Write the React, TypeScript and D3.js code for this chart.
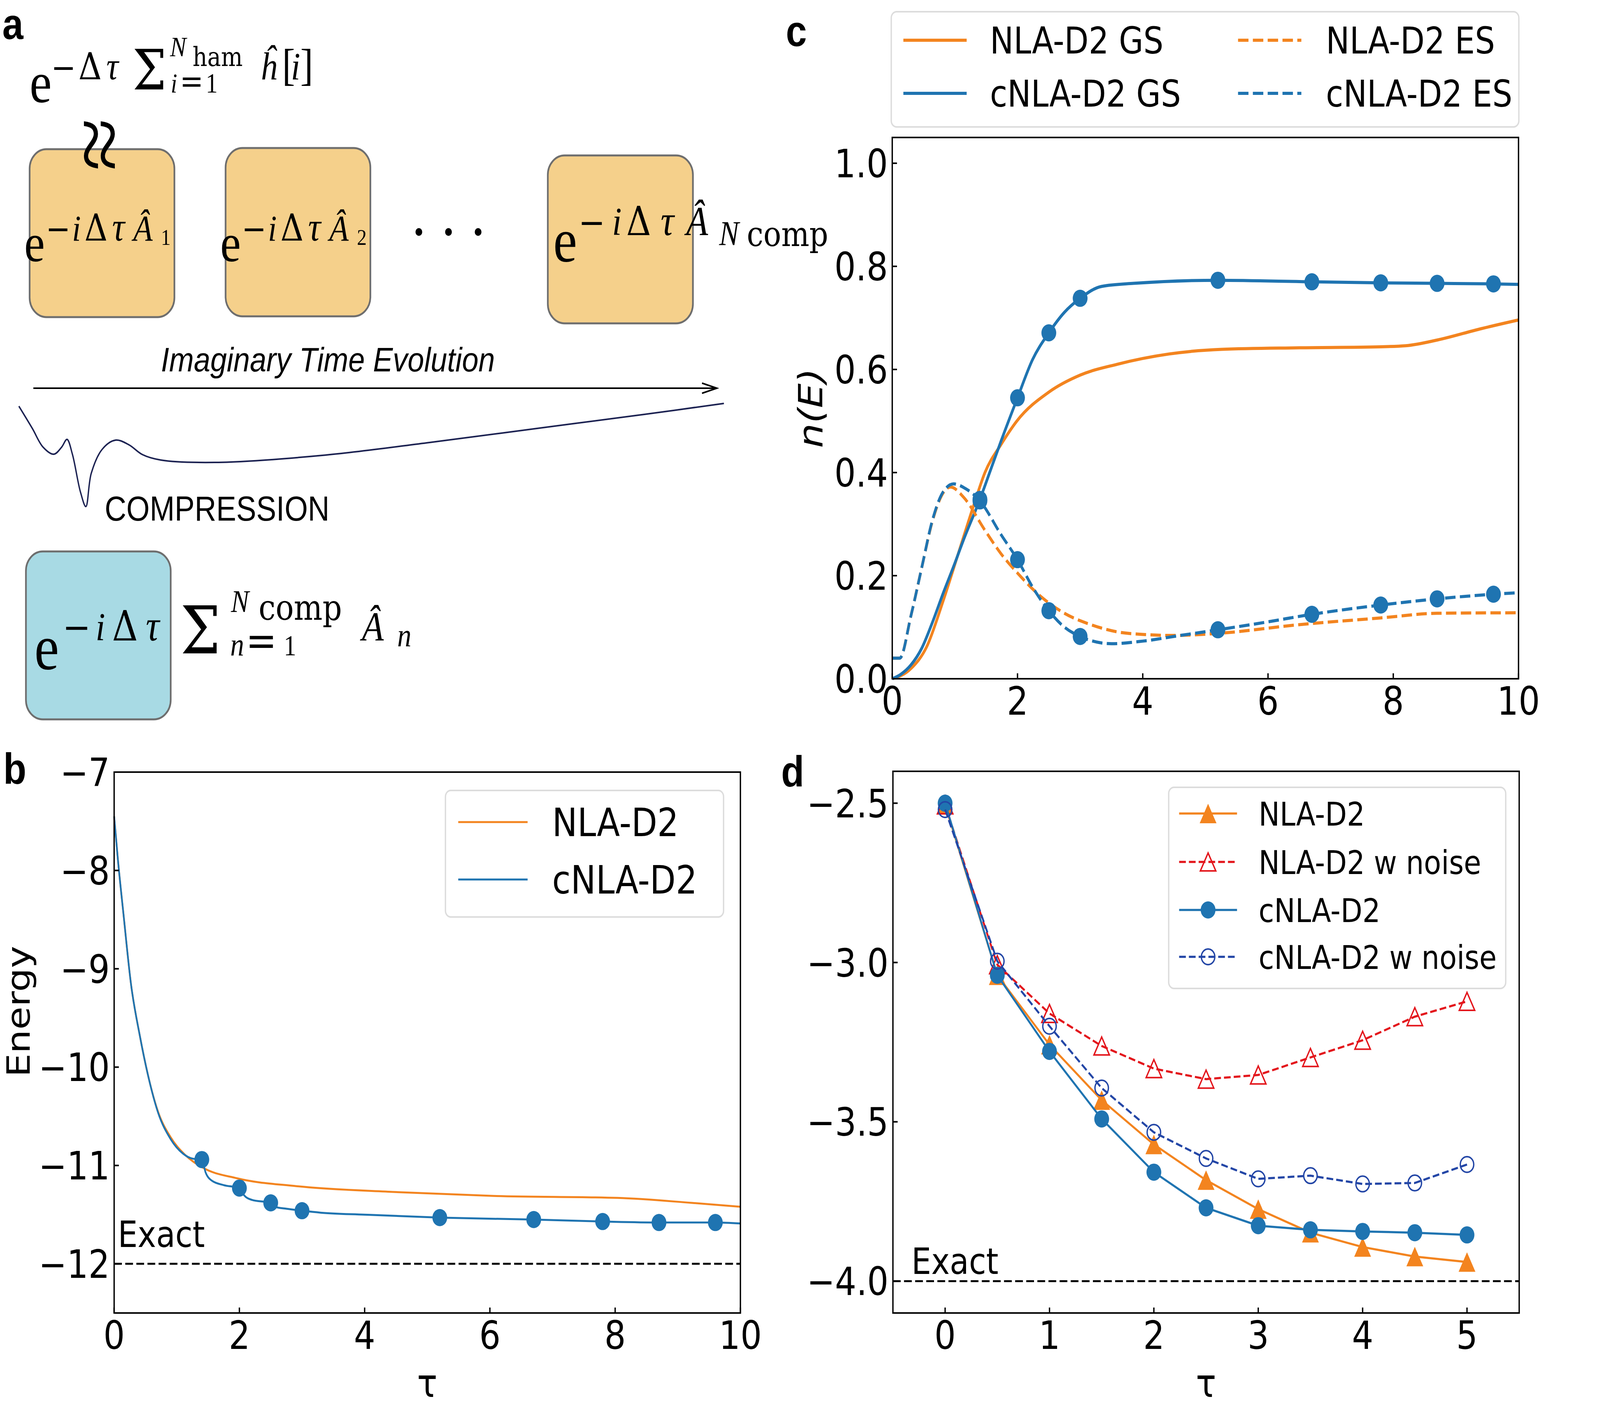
import { useEffect } from "react";
import * as d3 from "d3";

// ---------- panel b : energy vs imaginary time ----------
const bTauNla = [0, 0.06, 0.15, 0.27, 0.41, 0.54, 0.7, 0.9, 1.13, 1.41, 1.96, 2.91, 4.49, 6.06, 8.04, 9.22, 10];
const bEnergyNla = [-7.45, -7.89, -8.45, -9.16, -9.68, -10.08, -10.45, -10.71, -10.89, -11.02, -11.13, -11.21, -11.27, -11.31, -11.33, -11.38, -11.42];
const bTauCnla = [0, 0.06, 0.15, 0.27, 0.41, 0.54, 0.7, 0.9, 1.1, 1.25, 1.4, 1.46, 1.55, 1.75, 2.0, 2.07, 2.2, 2.5, 2.57, 2.75, 3.0, 3.3, 4.0, 5.2, 6.7, 7.8, 8.7, 9.6, 10];
const bEnergyCnla = [-7.45, -7.89, -8.45, -9.16, -9.68, -10.08, -10.46, -10.73, -10.88, -10.93, -10.94, -11.07, -11.15, -11.2, -11.23, -11.3, -11.35, -11.38, -11.42, -11.44, -11.46, -11.48, -11.5, -11.53, -11.55, -11.57, -11.58, -11.58, -11.59];
const bMarkTau = [1.4, 2.0, 2.5, 3.0, 5.2, 6.7, 7.8, 8.7, 9.6];
const bMarkEnergy = [-10.94, -11.23, -11.38, -11.46, -11.53, -11.55, -11.57, -11.58, -11.58];
const bExact = -12;
const bXTicks = [0, 2, 4, 6, 8, 10];
const bYTicks = [-12, -11, -10, -9, -8, -7];

// ---------- panel c : n(E) ----------
const cTauGsNla = [0, 0.3, 0.55, 0.81, 1.06, 1.31, 1.48, 1.74, 1.99, 2.5, 3.0, 3.59, 4.42, 5.26, 6.5, 7.8, 8.2, 8.7, 9.4, 10];
const cGsNla = [0, 0.02, 0.062, 0.15, 0.245, 0.34, 0.4, 0.455, 0.5, 0.556, 0.589, 0.61, 0.63, 0.639, 0.642, 0.644, 0.646, 0.657, 0.679, 0.696];
const cTauGsCnla = [0, 0.13, 0.3, 0.47, 0.64, 0.81, 0.98, 1.14, 1.4, 1.57, 1.74, 2.0, 2.24, 2.5, 2.75, 3.0, 3.34, 3.85, 5.2, 6.7, 7.8, 8.7, 9.6, 10];
const cGsCnla = [0, 0.008, 0.027, 0.059, 0.109, 0.165, 0.218, 0.27, 0.348, 0.405, 0.462, 0.545, 0.619, 0.671, 0.711, 0.738, 0.761, 0.767, 0.773, 0.77, 0.768, 0.767, 0.766, 0.765];
const cTauEsNla = [0, 0.12, 0.3, 0.47, 0.64, 0.81, 0.93, 1.14, 1.48, 1.74, 2.0, 2.33, 2.75, 3.17, 3.59, 4.0, 4.5, 5.2, 6.5, 7.8, 8.7, 10];
const cEsNla = [0.04, 0.04, 0.123, 0.215, 0.305, 0.36, 0.372, 0.352, 0.288, 0.242, 0.205, 0.164, 0.127, 0.105, 0.091, 0.086, 0.084, 0.088, 0.105, 0.118, 0.127, 0.128];
const cTauEsCnla = [0, 0.12, 0.3, 0.47, 0.64, 0.81, 0.98, 1.14, 1.4, 1.74, 2.0, 2.24, 2.5, 2.75, 3.0, 3.5, 4.0, 4.6, 5.2, 5.93, 6.7, 7.8, 8.7, 9.6, 10];
const cEsCnla = [0.04, 0.04, 0.123, 0.215, 0.307, 0.362, 0.378, 0.371, 0.345, 0.279, 0.231, 0.178, 0.132, 0.1, 0.082, 0.068, 0.073, 0.084, 0.095, 0.109, 0.125, 0.143, 0.155, 0.164, 0.167];
const cMarkTau = [1.4, 2.0, 2.5, 3.0, 5.2, 6.7, 7.8, 8.7, 9.6];
const cMarkGs = [0.348, 0.545, 0.671, 0.738, 0.773, 0.77, 0.768, 0.767, 0.766];
const cMarkEs = [0.345, 0.231, 0.132, 0.082, 0.095, 0.125, 0.143, 0.155, 0.164];
const cXTicks = [0, 2, 4, 6, 8, 10];
const cYTicks = [0, 0.2, 0.4, 0.6, 0.8, 1.0];

// ---------- panel d : energy with noise ----------
const dTau = [0, 0.5, 1, 1.5, 2, 2.5, 3, 3.5, 4, 4.5, 5];
const dNla = [-2.505, -3.04, -3.258, -3.432, -3.571, -3.683, -3.774, -3.848, -3.893, -3.923, -3.94];
const dNlaNoise = [-2.505, -3.007, -3.16, -3.262, -3.333, -3.366, -3.353, -3.298, -3.244, -3.17, -3.122];
const dCnla = [-2.5, -3.04, -3.279, -3.491, -3.658, -3.77, -3.826, -3.839, -3.844, -3.848, -3.855];
const dCnlaNoise = [-2.52, -2.996, -3.2, -3.394, -3.533, -3.615, -3.679, -3.669, -3.695, -3.692, -3.634];
const dExact = -4.0;
const dXTicks = [0, 1, 2, 3, 4, 5];
const dYTicks = [-4.0, -3.5, -3.0, -2.5];

const ORANGE = "#f3841f";
const BLUE = "#1f74b1";
const RED = "#e3161c";
const NAVY = "#2346a6";
const BOX_ORANGE = "#f5d08b";
const BOX_CYAN = "#a8dae4";

const SANS = "'DejaVu Sans', sans-serif";
const ARIAL = "'Liberation Sans', Arial, sans-serif";
const SERIF = "'Liberation Serif', 'DejaVu Serif', serif";
const WIDE_SERIF = "'DejaVu Serif', serif";

type Lin = d3.ScaleLinear<number, number>;
type Pt = [number, number];

function pts(xs: number[], ys: number[]): Pt[] {
  return xs.map((v, i) => [v, ys[i]] as Pt);
}

function Frame({ x, y, xTicks, yTicks, fx, fy }: { x: Lin; y: Lin; xTicks: number[]; yTicks: number[]; fx: (v: number) => string; fy: (v: number) => string }) {
  const [l, r] = x.range();
  const [b, t] = y.range();
  return (
    <g fontFamily={SANS} fontSize={100} fill="#000">
      {xTicks.map((v) => (
        <g key={"x" + v}>
          <line x1={x(v)} x2={x(v)} y1={b} y2={b - 14} stroke="#000" strokeWidth={4} />
          <text x={x(v)} y={b + 92} textAnchor="middle">{fx(v)}</text>
        </g>
      ))}
      {yTicks.map((v) => (
        <g key={"y" + v}>
          <line x1={l} x2={l + 14} y1={y(v)} y2={y(v)} stroke="#000" strokeWidth={4} />
          <text x={l - 13} y={y(v) + 36} textAnchor="end">{fy(v)}</text>
        </g>
      ))}
      <rect x={l} y={t} width={r - l} height={b - t} fill="none" stroke="#000" strokeWidth={4} />
    </g>
  );
}

function triangle(cx: number, cy: number, h: number) {
  return `M${cx},${cy - h}L${cx + h},${cy + h}L${cx - h},${cy + h}Z`;
}

function LegendBox({ x, y, w, h }: { x: number; y: number; w: number; h: number }) {
  return <rect x={x} y={y} width={w} height={h} rx={16} fill="#fff" fillOpacity={0.85} stroke="#dcdcdc" strokeWidth={4} />;
}

function PanelB() {
  const x = d3.scaleLinear().domain([0, 10]).range([339, 2199]);
  const y = d3.scaleLinear().domain([-12.5, -7]).range([3362, 1977]);
  const line = d3.line<Pt>().x((d) => x(d[0])).y((d) => y(d[1])).curve(d3.curveMonotoneX);
  return (
    <g>
      <line x1={x(0)} x2={x(10)} y1={y(bExact)} y2={y(bExact)} stroke="#000" strokeWidth={5} strokeDasharray="23 10" />
      <text x={350} y={y(-11.83)} fontFamily={SANS} fontSize={93}>Exact</text>
      <path d={line(pts(bTauNla, bEnergyNla)) ?? ""} fill="none" stroke={ORANGE} strokeWidth={5} />
      <path d={line(pts(bTauCnla, bEnergyCnla)) ?? ""} fill="none" stroke={BLUE} strokeWidth={5} />
      {bMarkTau.map((t, i) => (
        <circle key={i} cx={x(t)} cy={y(bMarkEnergy[i])} r={22} fill={BLUE} />
      ))}
      <Frame x={x} y={y} xTicks={bXTicks} yTicks={bYTicks} fx={d3.format("d")} fy={d3.format("d")} />
      <text transform="translate(88,2590) rotate(-90)" textAnchor="middle" fontFamily={SANS} fontSize={96}>Energy</text>
      <text x={(339 + 2199) / 2} y={3577} textAnchor="middle" fontFamily={SANS} fontSize={100}>τ</text>
      <LegendBox x={1323} y={2024} w={826} h={324} />
      {[
        { label: "NLA-D2", color: ORANGE, cy: 2105 },
        { label: "cNLA-D2", color: BLUE, cy: 2252 },
      ].map((e) => (
        <g key={e.label}>
          <line x1={1361} x2={1567} y1={e.cy} y2={e.cy} stroke={e.color} strokeWidth={5} />
          <text x={1640} y={e.cy + 36} fontFamily={SANS} fontSize={100}>{e.label}</text>
        </g>
      ))}
    </g>
  );
}

function PanelC() {
  const x = d3.scaleLinear().domain([0, 10]).range([2650, 4510]);
  const y = d3.scaleLinear().domain([0, 1.05]).range([1738, 352]);
  const line = d3.line<Pt>().x((d) => x(d[0])).y((d) => y(d[1])).curve(d3.curveMonotoneX);
  const dash = "31 13";
  return (
    <g>
      <path d={line(pts(cTauGsNla, cGsNla)) ?? ""} fill="none" stroke={ORANGE} strokeWidth={8} />
      <path d={line(pts(cTauGsCnla, cGsCnla)) ?? ""} fill="none" stroke={BLUE} strokeWidth={8} />
      <path d={line(pts(cTauEsNla, cEsNla)) ?? ""} fill="none" stroke={ORANGE} strokeWidth={8} strokeDasharray={dash} />
      <path d={line(pts(cTauEsCnla, cEsCnla)) ?? ""} fill="none" stroke={BLUE} strokeWidth={8} strokeDasharray={dash} />
      {cMarkTau.map((t, i) => (
        <g key={i}>
          <circle cx={x(t)} cy={y(cMarkGs[i])} r={22} fill={BLUE} />
          <circle cx={x(t)} cy={y(cMarkEs[i])} r={22} fill={BLUE} />
        </g>
      ))}
      <Frame x={x} y={y} xTicks={cXTicks} yTicks={cYTicks} fx={d3.format("d")} fy={d3.format(".1f")} />
      <text transform="translate(2442,1045) rotate(-90)" textAnchor="middle" fontFamily={SANS} fontStyle="italic" fontSize={100}>n(E)</text>
      <LegendBox x={2647} y={30} w={1864} h={295} />
      {[
        { label: "NLA-D2 GS", color: ORANGE, dashed: false, hx: 2683, tx: 2940, cy: 103 },
        { label: "cNLA-D2 GS", color: BLUE, dashed: false, hx: 2683, tx: 2940, cy: 239 },
        { label: "NLA-D2 ES", color: ORANGE, dashed: true, hx: 3677, tx: 3938, cy: 103 },
        { label: "cNLA-D2 ES", color: BLUE, dashed: true, hx: 3677, tx: 3938, cy: 239 },
      ].map((e) => (
        <g key={e.label}>
          <line x1={e.hx} x2={e.hx + 188} y1={e.cy} y2={e.cy} stroke={e.color} strokeWidth={8} strokeDasharray={e.dashed ? dash : undefined} />
          <text x={e.tx} y={e.cy + 34} fontFamily={SANS} fontSize={94}>{e.label}</text>
        </g>
      ))}
    </g>
  );
}

function Marker({ kind, cx, cy, color }: { kind: string; cx: number; cy: number; color: string }) {
  if (kind === "tri") return <path d={triangle(cx, cy, 25)} fill={color} />;
  if (kind === "triOpen") return <path d={triangle(cx, cy, 23)} fill="none" stroke={color} strokeWidth={4} />;
  if (kind === "dot") return <circle cx={cx} cy={cy} r={22} fill={color} />;
  return <circle cx={cx} cy={cy} r={20} fill="none" stroke={color} strokeWidth={4} />;
}

function PanelD() {
  const x = d3.scaleLinear().domain([-0.5, 5.5]).range([2652, 4512]);
  const y = d3.scaleLinear().domain([-4.1, -2.4]).range([3362, 1975]);
  const line = d3.line<Pt>().x((d) => x(d[0])).y((d) => y(d[1]));
  const series = [
    { label: "NLA-D2", values: dNla, color: ORANGE, dashed: false, kind: "tri" },
    { label: "NLA-D2 w noise", values: dNlaNoise, color: RED, dashed: true, kind: "triOpen" },
    { label: "cNLA-D2", values: dCnla, color: BLUE, dashed: false, kind: "dot" },
    { label: "cNLA-D2 w noise", values: dCnlaNoise, color: NAVY, dashed: true, kind: "dotOpen" },
  ];
  const rows = [2083, 2207, 2330, 2450];
  return (
    <g>
      <line x1={x(-0.5)} x2={x(5.5)} y1={y(dExact)} y2={y(dExact)} stroke="#000" strokeWidth={5} strokeDasharray="23 10" />
      <text x={2707} y={y(-3.978)} fontFamily={SANS} fontSize={93}>Exact</text>
      {series.map((s) => (
        <g key={s.label}>
          <path d={line(pts(dTau, s.values)) ?? ""} fill="none" stroke={s.color} strokeWidth={5.5} strokeDasharray={s.dashed ? "20 9" : undefined} />
          {dTau.map((t, i) => (
            <Marker key={i} kind={s.kind} cx={x(t)} cy={y(s.values[i])} color={s.color} />
          ))}
        </g>
      ))}
      <Frame x={x} y={y} xTicks={dXTicks} yTicks={dYTicks} fx={d3.format("d")} fy={d3.format(".1f")} />
      <text x={(2652 + 4512) / 2} y={3577} textAnchor="middle" fontFamily={SANS} fontSize={100}>τ</text>
      <LegendBox x={3471} y={2016} w={1001} h={515} />
      {series.map((s, i) => (
        <g key={s.label}>
          <line x1={3502} x2={3674} y1={rows[i]} y2={rows[i]} stroke={s.color} strokeWidth={5.5} strokeDasharray={s.dashed ? "20 9" : undefined} />
          <Marker kind={s.kind} cx={3588} cy={rows[i]} color={s.color} />
          <text x={3738} y={rows[i] + 31} fontFamily={SANS} fontSize={84}>{s.label}</text>
        </g>
      ))}
    </g>
  );
}

// ---------- panel a : schematic ----------
// w = wide serif (DejaVu Serif), otherwise Times-like serif
type Piece = { t: string; x: number; y: number; s: number; it?: boolean; w?: boolean };

const formulaTop: Piece[] = [
  { t: "e", x: 88, y: 262, s: 148 },
  { t: "−", x: 152, y: 203, s: 88, w: true },
  { t: "Δ", x: 233, y: 203, s: 96, w: true },
  { t: "τ", x: 316, y: 203, s: 100, it: true },
  { t: "Σ", x: 394, y: 229, s: 142, w: true },
  { t: "N", x: 505, y: 144, s: 72, it: true },
  { t: "ham", x: 572, y: 169, s: 68, w: true },
  { t: "i", x: 507, y: 237, s: 70, it: true },
  { t: "=", x: 534, y: 237, s: 84, w: true },
  { t: "1", x: 611, y: 237, s: 71 },
  { t: "ĥ", x: 773, y: 203, s: 100, it: true },
  { t: "[", x: 838, y: 205, s: 115 },
  { t: "i", x: 864, y: 203, s: 100, it: true },
  { t: "]", x: 892, y: 205, s: 115 },
];

function boxFormula(dx: number, idx: string): Piece[] {
  return [
    { t: "e", x: 72 + dx, y: 669, s: 138 },
    { t: "−", x: 136 + dx, y: 616, s: 88, w: true },
    { t: "i", x: 214 + dx, y: 616, s: 94, it: true },
    { t: "Δ", x: 251 + dx, y: 616, s: 95, w: true },
    { t: "τ", x: 333 + dx, y: 616, s: 104, it: true },
    { t: "Â", x: 396 + dx, y: 616, s: 94, it: true },
    { t: idx, x: 478 + dx, y: 627, s: 58 },
  ];
}

const formulaBox3: Piece[] = [
  { t: "e", x: 1643, y: 669, s: 160 },
  { t: "−", x: 1718, y: 602, s: 95, w: true },
  { t: "i", x: 1818, y: 602, s: 102, it: true },
  { t: "Δ", x: 1860, y: 602, s: 102, w: true },
  { t: "τ", x: 1962, y: 602, s: 110, it: true },
  { t: "Â", x: 2038, y: 602, s: 106, it: true },
  { t: "N", x: 2136, y: 627, s: 88, it: true },
  { t: "comp", x: 2218, y: 630, s: 88, w: true },
];

const formulaCyan: Piece[] = [
  { t: "e", x: 102, y: 1713, s: 165 },
  { t: "−", x: 186, y: 1640, s: 100, w: true },
  { t: "i", x: 284, y: 1640, s: 102, it: true },
  { t: "Δ", x: 333, y: 1640, s: 106, w: true },
  { t: "τ", x: 433, y: 1640, s: 112, it: true },
  { t: "Σ", x: 536, y: 1673, s: 168, w: true },
  { t: "N", x: 686, y: 1567, s: 80, it: true },
  { t: "comp", x: 768, y: 1587, s: 90, w: true },
  { t: "n", x: 684, y: 1678, s: 82, it: true },
  { t: "=", x: 730, y: 1678, s: 110, w: true },
  { t: "1", x: 843, y: 1678, s: 74 },
  { t: "Â", x: 1075, y: 1640, s: 106, it: true },
  { t: "n", x: 1180, y: 1655, s: 84, it: true },
];

const schematicBoxes = [
  { x: 88, y: 382, w: 430, h: 430, fill: BOX_ORANGE },
  { x: 670, y: 379, w: 430, h: 431, fill: BOX_ORANGE },
  { x: 1627, y: 398, w: 431, h: 430, fill: BOX_ORANGE },
  { x: 77, y: 1412, w: 430, h: 430, fill: BOX_CYAN },
];

const compressionCurve: Pt[] = [
  [56, 1040], [96, 1097], [128, 1145], [160, 1163], [183, 1145], [199, 1125], [215, 1163],
  [239, 1260], [255, 1297], [271, 1212], [303, 1151], [343, 1127], [383, 1139], [423, 1164],
  [478, 1178], [638, 1184], [957, 1166], [1276, 1133], [1595, 1097], [1914, 1061], [2150, 1033],
];

function Pieces({ items }: { items: Piece[] }) {
  return (
    <g>
      {items.map((p, i) => (
        <text key={i} x={p.x} y={p.y} fontSize={p.s} fontFamily={p.w ? WIDE_SERIF : SERIF} fontStyle={p.it ? "italic" : "normal"}>
          {p.t}
        </text>
      ))}
    </g>
  );
}

function PanelA() {
  const curve = d3.line<Pt>().x((d) => d[0]).y((d) => d[1]).curve(d3.curveCatmullRom.alpha(0.5));
  return (
    <g>
      {schematicBoxes.map((b, i) => (
        <rect key={i} x={b.x} y={b.y} width={b.w} height={b.h} rx={50} fill={b.fill} stroke="#6e6e6e" strokeWidth={5} />
      ))}
      <Pieces items={formulaTop} />
      <text transform="translate(297,372) rotate(90)" textAnchor="middle" dominantBaseline="central" fontFamily={SERIF} fontSize={250}>≈</text>
      <Pieces items={boxFormula(0, "1")} />
      <Pieces items={boxFormula(582, "2")} />
      <Pieces items={formulaBox3} />
      <Pieces items={formulaCyan} />
      {[1244, 1332, 1420].map((cx) => (
        <circle key={cx} cx={cx} cy={594} r={10} fill="#000" />
      ))}
      <text x={478} y={951} fontFamily={ARIAL} fontStyle="italic" fontSize={88}>Imaginary Time Evolution</text>
      <line x1={99} x2={2127} y1={994} y2={994} stroke="#000" strokeWidth={4} />
      <polyline points="2085,981 2129,994 2085,1007" fill="none" stroke="#000" strokeWidth={4} />
      <path d={curve(compressionCurve) ?? ""} fill="none" stroke="#1c2252" strokeWidth={4} />
      <text x={311} y={1333} fontFamily={ARIAL} fontSize={89}>COMPRESSION</text>
    </g>
  );
}

export default function App() {
  useEffect(() => {
    document.body.style.margin = "0";
  }, []);
  // the figure is laid out on a 4752 x 3636 canvas and stretched to fill the window
  return (
    <svg
      viewBox="0 0 4752 3636"
      preserveAspectRatio="none"
      style={{ display: "block", width: "100vw", height: "100vh", background: "#fff" }}
    >
      <rect x={0} y={0} width={4752} height={3636} fill="#fff" />
      <PanelA />
      <PanelB />
      <PanelC />
      <PanelD />
      <g fontFamily={ARIAL} fontWeight="bold" fontSize={112}>
        <text x={7} y={100}>a</text>
        <text x={2334} y={118}>c</text>
        <text x={10} y={2007}>b</text>
        <text x={2320} y={2014}>d</text>
      </g>
    </svg>
  );
}
